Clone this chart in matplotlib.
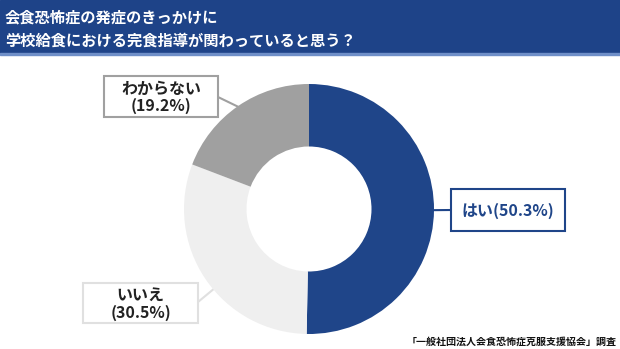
import numpy as np
import matplotlib.pyplot as plt
from matplotlib.patches import Rectangle

plt.rcParams['font.family'] = ['Noto Sans CJK JP', 'DejaVu Sans']

title_lines = ['会食恐怖症の発症のきっかけに', '学校給食における完食指導が関わっていると思う？']
categories = ['はい', 'いいえ', 'わからない']
values = [50.3, 30.5, 19.2]
colors = ['#1f4589', '#efefef', '#a0a0a0']
source = '「一般社団法人会食恐怖症克服支援協会」調査'

W, H = 620, 349
fig = plt.figure(figsize=(W / 100, H / 100), dpi=100)

# overlay axes in pixel coordinates (y down)
ov = fig.add_axes([0, 0, 1, 1])
ov.set_xlim(0, W)
ov.set_ylim(H, 0)
ov.axis('off')

# header band
ov.add_patch(Rectangle((0, 0), W, 53, color='#1e4388', zorder=1))
ov.add_patch(Rectangle((0, 53), W, 2, color='#6f8fc8', zorder=1))
ov.text(5, 17, title_lines[0], color='white', fontsize=11, fontweight='bold', va='center', ha='left')
ov.text(5, 41, title_lines[1], color='white', fontsize=11, fontweight='bold', va='center', ha='left')

# donut
cx, cy, r = 309, 209, 125
pax = fig.add_axes([(cx - r) / W, (H - cy - r) / H, 2 * r / W, 2 * r / H])
wedges, _ = pax.pie(values, colors=colors, startangle=90, counterclock=False,
                    radius=1, wedgeprops=dict(width=0.5, linewidth=0))
pax.set_xlim(-1, 1)
pax.set_ylim(-1, 1)
pax.set_aspect('equal')
pax.axis('off')

# labels
boxes = [
    (451, 189, 114, 42, '#1f4589', '#1f4589', categories[0] + '(' + f'{values[0]}%' + ')'),
    (83, 283, 115, 40, '#e0e0e0', '#222222', categories[1] + '\n(' + f'{values[1]}%' + ')'),
    (104, 76, 114, 41, '#a0a0a0', '#222222', categories[2] + '\n(' + f'{values[2]}%' + ')'),
]
anchors = [(451, 210), (198, 302), (218, 97)]
offsets = [0, 6, 0]  # small shift of the leader start along the arc (degrees)

for w, (bx, by, bw, bh, ec, tc, txt), (ax_, ay_), off in zip(wedges, boxes, anchors, offsets):
    mid = np.deg2rad((w.theta1 + w.theta2) / 2 + off)
    px = cx + r * 0.99 * np.cos(mid)
    py = cy - r * 0.99 * np.sin(mid)
    ov.plot([px, ax_], [py, ay_], color=ec, lw=1.5, zorder=2)
    ov.add_patch(Rectangle((bx, by), bw, bh, facecolor='white', edgecolor=ec, lw=1.5, zorder=3))
    ov.text(bx + bw / 2, by + bh / 2 + 1, txt, color=tc, fontsize=11.5, fontweight='bold',
            ha='center', va='center', linespacing=1.1, zorder=4)

ov.text(617, 342, source, fontsize=7.2, fontweight='bold', ha='right', va='center', color='#111111')

fig.savefig('out.png', dpi=100)
